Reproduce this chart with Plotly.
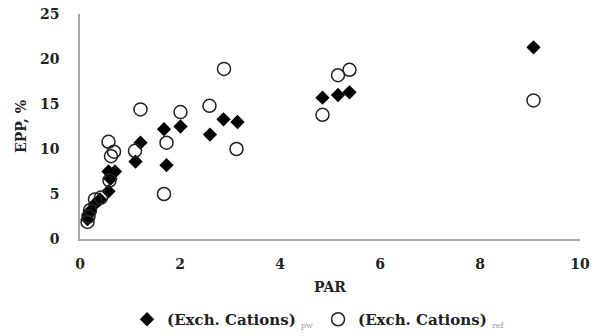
import plotly.graph_objects as go

# Series: (Exch. Cations) pw  -- filled diamonds
pw_x = [0.15, 0.17, 0.2, 0.3, 0.4, 0.57, 0.61, 0.57, 0.70, 1.11, 1.21, 1.73, 1.68, 2.01, 2.6, 2.87, 3.15, 4.85, 5.16, 5.39, 9.07]
pw_y = [2.2, 2.7, 3.1, 3.9, 4.4, 5.3, 6.7, 7.5, 7.5, 8.6, 10.7, 8.2, 12.2, 12.5, 11.6, 13.3, 13.0, 15.7, 16.0, 16.3, 21.3]

# Series: (Exch. Cations) ref -- open circles
ref_x = [0.15, 0.17, 0.2, 0.3, 0.42, 0.59, 0.62, 0.68, 0.57, 1.10, 1.21, 1.68, 1.73, 2.01, 2.59, 2.88, 3.13, 4.85, 5.16, 5.39, 9.07]
ref_y = [1.9, 2.5, 3.2, 4.4, 4.6, 6.5, 9.2, 9.7, 10.8, 9.8, 14.4, 5.0, 10.7, 14.1, 14.8, 18.9, 10.0, 13.8, 18.2, 18.8, 15.4]

x_ticks = [0, 2, 4, 6, 8, 10]
y_ticks = [0, 5, 10, 15, 20, 25]

FONT = "DejaVu Serif"

fig = go.Figure()
fig.add_trace(go.Scatter(
    x=pw_x, y=pw_y, mode="markers",
    name="(Exch. Cations) <sub><span style='color:#999;font-size:8px;font-weight:normal'>pw</span></sub>",
    marker=dict(symbol="diamond", size=11, color="black"),
))
fig.add_trace(go.Scatter(
    x=ref_x, y=ref_y, mode="markers",
    name="(Exch. Cations) <sub><span style='color:#999;font-size:8px;font-weight:normal'>ref</span></sub>",
    marker=dict(symbol="circle-open", size=13, color="#222", line=dict(width=1.5)),
))

fig.update_layout(
    width=601, height=336,
    margin=dict(l=80, r=21, t=14, b=97),
    paper_bgcolor="white", plot_bgcolor="white",
    font=dict(family=FONT, size=13, color="#222", weight="bold"),
    showlegend=True,
    legend=dict(orientation="h", x=0.53, xref="container", xanchor="center",
                y=0.0, yref="container", yanchor="bottom",
                font=dict(family=FONT, size=15, weight="bold"), itemwidth=30,
                tracegroupgap=0),
    xaxis=dict(range=[0, 10], tickvals=x_ticks, showgrid=False, zeroline=False,
               showline=True, linecolor="#a6a6a6", linewidth=1.5, automargin=False,
               ticks="outside", ticklen=11, tickcolor="rgba(0,0,0,0)",
               title=dict(text="PAR", standoff=12, font=dict(size=14, weight="bold")),
               tickfont=dict(size=14, weight="bold")),
    yaxis=dict(range=[0, 25], tickvals=y_ticks, showgrid=False, zeroline=False,
               showline=True, linecolor="#a6a6a6", linewidth=1.5, automargin=False,
               ticks="outside", ticklen=16, tickcolor="rgba(0,0,0,0)",
               title=dict(text="EPP, %", standoff=10, font=dict(size=14, weight="bold")),
               tickfont=dict(size=14, weight="bold")),
)

fig.write_html("out.html")
